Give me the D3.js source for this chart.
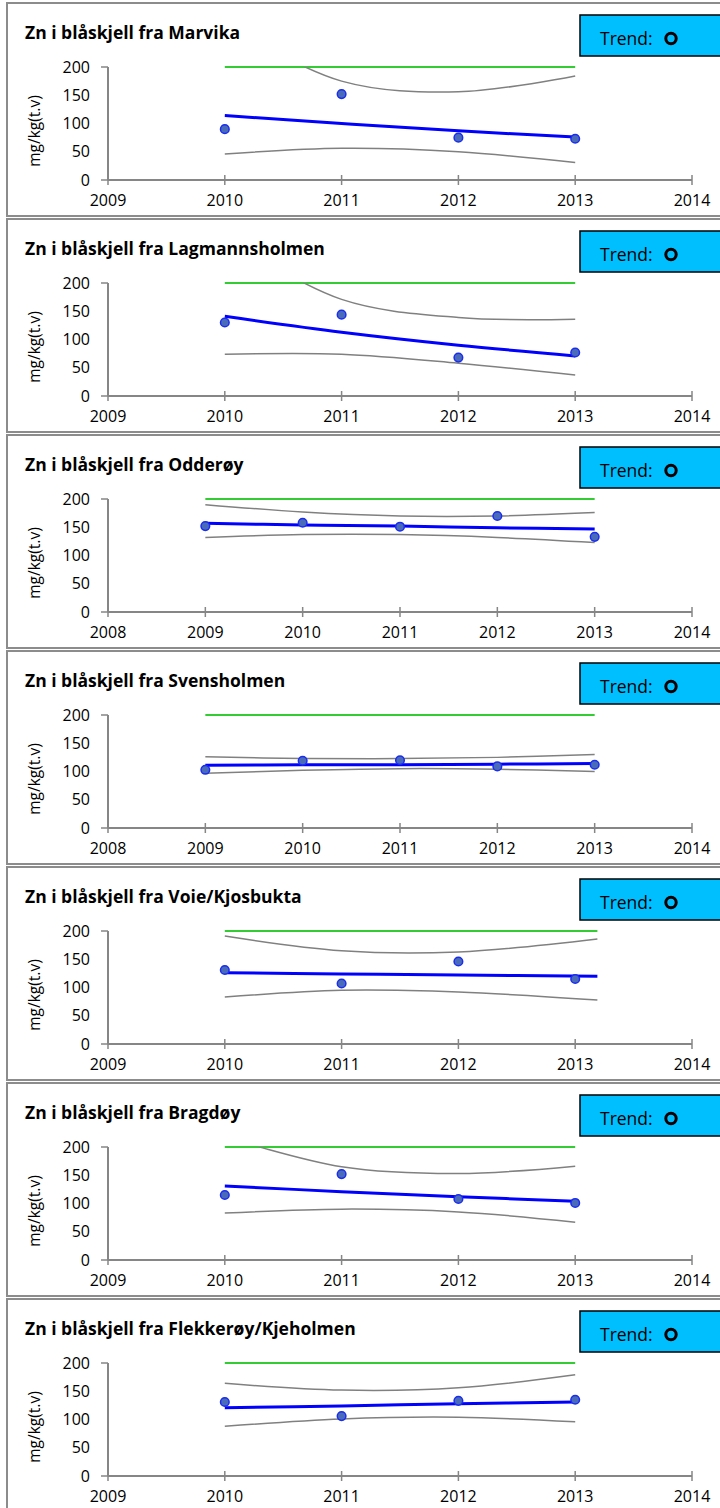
<!DOCTYPE html>
<html>
<head>
<meta charset="utf-8">
<script src="https://cdn.jsdelivr.net/npm/d3@7"></script>
<style>
  body { margin: 0; background: #fff; }
  svg { display: block; }
</style>
</head>
<body>
<svg id="chart"></svg>
<script>
// stations
const titles = [
  'Zn i blåskjell fra Marvika',
  'Zn i blåskjell fra Lagmannsholmen',
  'Zn i blåskjell fra Odderøy',
  'Zn i blåskjell fra Svensholmen',
  'Zn i blåskjell fra Voie/Kjosbukta',
  'Zn i blåskjell fra Bragdøy',
  'Zn i blåskjell fra Flekkerøy/Kjeholmen'
];

// x axis range per station
const xStart = [2009, 2009, 2008, 2008, 2009, 2009, 2009];
const xEnd = [2014, 2014, 2014, 2014, 2014, 2014, 2014];

// sampling years
const years = [
  [2010, 2011, 2012, 2013],
  [2010, 2011, 2012, 2013],
  [2009, 2010, 2011, 2012, 2013],
  [2009, 2010, 2011, 2012, 2013],
  [2010, 2011, 2012, 2013],
  [2010, 2011, 2012, 2013],
  [2010, 2011, 2012, 2013]
];

// measured Zn, mg/kg(t.v)
const measured = [
  [90, 152, 75, 73],
  [130, 144, 68, 77],
  [152, 158, 151, 170, 133],
  [103, 119, 120, 109, 112],
  [131, 107, 146, 115],
  [115, 152, 108, 101],
  [131, 106, 133, 135]
];

// x positions where the fitted lines are read
const fitYears = [
  [2010, 2011, 2012, 2013],
  [2010, 2011, 2012, 2013],
  [2009, 2010, 2011, 2012, 2013],
  [2009, 2010, 2011, 2012, 2013],
  [2010, 2011, 2012, 2013.19],
  [2010, 2011, 2012, 2013],
  [2010, 2011, 2012, 2013]
];

// fitted trend
const trend = [
  [114, 100, 87, 76],
  [141, 113, 90, 71],
  [157, 154, 152, 149, 147],
  [111, 112, 112, 113, 114],
  [126, 124, 122, 120],
  [131, 121, 112, 104],
  [121, 124, 128, 131]
];

// confidence band
const upper = [
  [275, 175, 156, 184],
  [280, 171, 139, 136],
  [190, 177, 170, 170, 176],
  [126, 123, 123, 125, 130],
  [191, 165, 163, 186],
  [218, 165, 153, 166],
  [164, 152, 156, 179]
];
const lower = [
  [46, 56, 50, 31],
  [74, 74, 58, 37],
  [132, 137, 137, 132, 123],
  [97, 102, 105, 104, 100],
  [83, 95, 92, 78],
  [83, 90, 85, 67],
  [88, 101, 104, 96]
];

const limitValue = 200;
const yTicks = [0, 50, 100, 150, 200];
const trendLabel = 'Trend: ';

// Dimensions
const width = 720;
const height = 1508;
const pitch = 216;
const font = "'Open Sans', 'Noto Sans', sans-serif";

const svg = d3.select('#chart')
  .attr('width', width)
  .attr('height', height);

svg.append('rect').attr('width', width).attr('height', height).attr('fill', '#fff');

titles.forEach((title, i) => {
  const top = 3 + i * pitch;
  const g = svg.append('g').attr('transform', `translate(0, ${top})`);

  // Panel frame
  g.append('rect')
    .attr('x', 7).attr('y', 0)
    .attr('width', 730).attr('height', 213)
    .attr('fill', '#fff')
    .attr('stroke', '#8c8c8c')
    .attr('stroke-width', 2);

  // Scales
  const x = d3.scaleLinear().domain([xStart[i], xEnd[i]]).range([108, 692]);
  const y = d3.scaleLinear().domain([0, 200]).range([177, 64]);

  // Title
  g.append('text')
    .attr('x', 25).attr('y', 36)
    .attr('font-family', font)
    .attr('font-size', '17.5px')
    .attr('font-weight', 'bold')
    .attr('fill', '#000')
    .text(title);

  // Trend box
  g.append('rect')
    .attr('x', 580).attr('y', 12)
    .attr('width', 150).attr('height', 41)
    .attr('fill', '#00bfff')
    .attr('stroke', '#000')
    .attr('stroke-width', 1.5);
  g.append('text')
    .attr('x', 600).attr('y', 42)
    .attr('font-family', font)
    .attr('font-size', '17.5px')
    .attr('fill', '#000')
    .text(trendLabel);
  g.append('circle')
    .attr('cx', 671).attr('cy', 35.5)
    .attr('r', 5.2)
    .attr('fill', 'none')
    .attr('stroke', '#000')
    .attr('stroke-width', 3);

  // Axes
  const axisColor = '#868686';
  g.append('line')
    .attr('x1', x.range()[0]).attr('x2', x.range()[1])
    .attr('y1', y(0)).attr('y2', y(0))
    .attr('stroke', axisColor).attr('stroke-width', 2);
  g.append('line')
    .attr('x1', x.range()[0]).attr('x2', x.range()[0])
    .attr('y1', y(0)).attr('y2', y(200))
    .attr('stroke', axisColor).attr('stroke-width', 2);

  const xTicks = d3.range(xStart[i], xEnd[i] + 1);
  g.selectAll('line.xtick')
    .data(xTicks)
    .join('line')
    .attr('class', 'xtick')
    .attr('x1', (d) => x(d)).attr('x2', (d) => x(d))
    .attr('y1', y(0) - 5).attr('y2', y(0) + 5)
    .attr('stroke', axisColor).attr('stroke-width', 1.5);
  g.selectAll('text.xlabel')
    .data(xTicks)
    .join('text')
    .attr('class', 'xlabel')
    .attr('x', (d) => x(d)).attr('y', 203)
    .attr('text-anchor', 'middle')
    .attr('font-family', font)
    .attr('font-size', '16px')
    .attr('fill', '#000')
    .text((d) => d);

  g.selectAll('line.ytick')
    .data([0, 200])
    .join('line')
    .attr('class', 'ytick')
    .attr('x1', x.range()[0] - 7).attr('x2', x.range()[0])
    .attr('y1', (d) => y(d)).attr('y2', (d) => y(d))
    .attr('stroke', axisColor).attr('stroke-width', 1.5);
  g.selectAll('text.ylabel')
    .data(yTicks)
    .join('text')
    .attr('class', 'ylabel')
    .attr('x', 90).attr('y', (d) => y(d))
    .attr('dy', '0.35em')
    .attr('text-anchor', 'end')
    .attr('font-family', font)
    .attr('font-size', '16px')
    .attr('fill', '#000')
    .text((d) => d);

  g.append('text')
    .attr('transform', `translate(40, 128) rotate(-90)`)
    .attr('text-anchor', 'middle')
    .attr('font-family', font)
    .attr('font-size', '15.5px')
    .attr('fill', '#000')
    .text('mg/kg(t.v)');

  // Clip for confidence band
  const clipId = `clip-${i}`;
  g.append('clipPath').attr('id', clipId)
    .append('rect')
    .attr('x', x.range()[0]).attr('y', y(200))
    .attr('width', x.range()[1] - x.range()[0])
    .attr('height', y(0) - y(200));

  const yrs = years[i];
  const fy = fitYears[i];
  const smooth = d3.line()
    .x((d, k) => x(fy[k]))
    .y((d) => y(d))
    .curve(d3.curveCatmullRom.alpha(0.5));

  // Limit line
  g.append('line')
    .attr('x1', x(fy[0])).attr('x2', x(fy[fy.length - 1]))
    .attr('y1', y(limitValue)).attr('y2', y(limitValue))
    .attr('stroke', '#33cc33').attr('stroke-width', 2);

  // Confidence band
  [upper[i], lower[i]].forEach((band) => {
    g.append('path')
      .datum(band)
      .attr('clip-path', `url(#${clipId})`)
      .attr('d', smooth)
      .attr('fill', 'none')
      .attr('stroke', '#808080')
      .attr('stroke-width', 1.5);
  });

  // Trend line
  g.append('path')
    .datum(trend[i])
    .attr('d', smooth)
    .attr('fill', 'none')
    .attr('stroke', '#0000ff')
    .attr('stroke-width', 3);

  // Measured points
  g.selectAll('circle.pt')
    .data(measured[i])
    .join('circle')
    .attr('class', 'pt')
    .attr('cx', (d, k) => x(yrs[k]))
    .attr('cy', (d) => y(d))
    .attr('r', 4.3)
    .attr('fill', '#4a6cb8')
    .attr('stroke', '#1a2cf0')
    .attr('stroke-width', 1.5);
});
</script>
</body>
</html>
